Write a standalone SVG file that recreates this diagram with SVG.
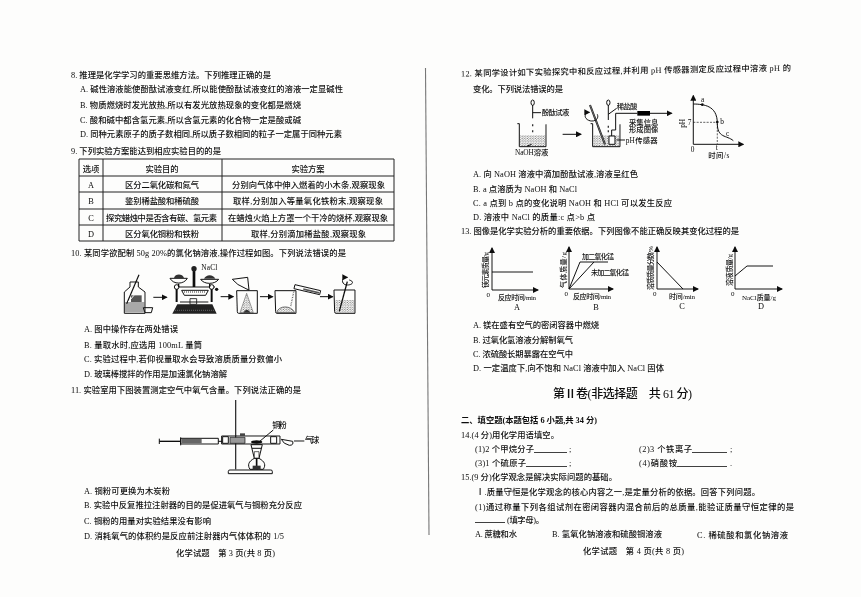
<svg xmlns="http://www.w3.org/2000/svg" width="861" height="597" viewBox="0 0 861 597">
<defs>
<filter id="scan" x="0" y="0" width="100%" height="100%"><feGaussianBlur stdDeviation="0.4"/></filter>
<marker id="ah" markerWidth="6" markerHeight="6" refX="5" refY="3" orient="auto"><path d="M0 0L6 3L0 6Z" fill="#111"/></marker>
<pattern id="dots" width="8" height="7" patternUnits="userSpaceOnUse"><circle cx="2" cy="2" r="1.6" fill="#444"/><circle cx="6" cy="5.5" r="1.6" fill="#444"/></pattern>
</defs>
<style>
text{font-family:"Liberation Serif","Noto Sans CJK SC",serif;font-size:8.3px;font-weight:500;fill:#0c0c0c}
.c{text-anchor:middle}
.ln{stroke:#111;stroke-width:1;fill:none}
.tb{stroke:#222;stroke-width:1;fill:none}
.u{stroke:#111;stroke-width:.8}
.z{stroke:#111;stroke-width:3;fill:none}
.zf{stroke:#111;stroke-width:3;fill:#fdfdfc}
.ax{stroke:#111;stroke-width:1;fill:none;marker-end:url(#ah)}
.t24{font-size:24px}
.t22{font-size:22px}
.lab{font-size:7px}
</style>
<rect width="861" height="597" fill="#fdfdfc"/>
<g filter="url(#scan)">
<path d="M425.5 68L429 535" stroke="#777" stroke-width="1.1" fill="none"/>

<g id="q8">
<text x="71" y="78" textLength="200">8. 推理是化学学习的重要思维方法。下列推理正确的是</text>
<text x="80" y="92" textLength="263">A. 碱性溶液能使酚酞试液变红,所以能使酚酞试液变红的溶液一定显碱性</text>
<text x="80" y="107.5" textLength="221">B. 物质燃烧时发光放热,所以有发光放热现象的变化都是燃烧</text>
<text x="80" y="122.5" textLength="221">C. 酸和碱中都含氢元素,所以含氢元素的化合物一定是酸或碱</text>
<text x="80" y="137" textLength="262">D. 同种元素原子的质子数相同,所以质子数相同的粒子一定属于同种元素</text>
</g>

<g id="q9">
<text x="71" y="153.5" textLength="150">9. 下列实验方案能达到相应实验目的的是</text>
<path class="tb" d="M79 159H394V241H79ZM79 176H394M79 192H394M79 209H394M79 225H394M103 159V241M222 159V241"/>
<text class="c" x="91" y="171.5">选项</text><text class="c" x="162" y="171.5" textLength="33">实验目的</text><text class="c" x="308" y="171.5" textLength="33">实验方案</text>
<text class="c" x="91" y="187.5">A</text><text x="125" y="187.5" textLength="74">区分二氧化碳和氮气</text><text x="232" y="187.5" textLength="153">分别向气体中伸入燃着的小木条,观察现象</text>
<text class="c" x="91" y="203.5">B</text><text x="125" y="203.5" textLength="74">鉴别稀盐酸和稀硫酸</text><text x="233" y="203.5" textLength="150">取样,分别加入等量氧化铁粉末,观察现象</text>
<text class="c" x="91" y="220.5">C</text><text x="106" y="220.5" textLength="111">探究蜡烛中是否含有碳、氢元素</text><text x="228" y="220.5" textLength="160">在蜡烛火焰上方罩一个干冷的烧杯,观察现象</text>
<text class="c" x="91" y="236.5">D</text><text x="125" y="236.5" textLength="74">区分氧化铜粉和铁粉</text><text x="251" y="236.5" textLength="115">取样,分别滴加稀盐酸,观察现象</text>
</g>

<g id="q10">
<text x="71" y="255.5" textLength="275">10. 某同学欲配制 50g 20%的氯化钠溶液,操作过程如图。下列说法错误的是</text>
<g id="fig10" transform="translate(60 240) scale(.3333)">
<path d="M195 186H253V217H195Z" fill="#a8a8a8"/>
<path class="z" d="M210 126H235V141L255 156V220H193V156L210 141Z"/>
<path d="M213 166H245V186H213Z" fill="#555"/>
<path d="M237 104L200 191" stroke="#111" stroke-width="3.5"/>
<path d="M205 186L222 166" stroke="#fdfdfc" stroke-width="3"/>
<path class="z" d="M250 203H278L274 218H255Z"/>
<path class="z" d="M280 172H320" marker-end="url(#ah)"/>
<path d="M337 221L352 193H457L470 221Z" fill="#222"/>
<path d="M345 211H462" stroke="#888" stroke-width="2" stroke-dasharray="3 3"/>
<path d="M390 176H410V193H390Z" fill="#fdfdfc" stroke="#111" stroke-width="2.5"/>
<path class="z" d="M343 141H465"/>
<path class="zf" d="M365 151H445L437 166H373Z"/>
<path d="M372 156H438" stroke="#333" stroke-width="3" stroke-dasharray="3 3"/>
<path d="M350 136V186M455 136V186" stroke="#111" stroke-width="6"/>
<path d="M360 186H445" stroke="#111" stroke-width="3"/>
<circle cx="350" cy="141" r="7" fill="#fdfdfc" stroke="#111" stroke-width="3"/><circle cx="455" cy="141" r="7" fill="#fdfdfc" stroke="#111" stroke-width="3"/>
<circle cx="470" cy="148" r="5" fill="#111"/>
<path d="M402 90V141" stroke="#111" stroke-width="8"/>
<circle cx="402" cy="86" r="8" fill="#222"/>
<path d="M330 115C340 134 372 134 382 115Z" fill="#fdfdfc" stroke="#111" stroke-width="3"/>
<path d="M422 118C432 134 465 134 476 118Z" fill="#fdfdfc" stroke="#111" stroke-width="3"/>
<path d="M342 114C345 100 368 100 372 114Z" fill="#333"/><path d="M432 116C438 102 460 102 466 116Z" fill="#333"/>
<path d="M356 131V141M449 131V141" stroke="#111" stroke-width="4"/>
<text class="t22" x="424" y="90" textLength="48">NaCl</text>
<path class="z" d="M482 170H520" marker-end="url(#ah)"/>
<path class="z" d="M530 152H592V220H536Q532 220 532 215Z"/>
<path class="zf" d="M517 118L563 112L567 150L558 146Q530 135 517 118Z"/>
<path d="M560 160L580 218H540Z" fill="url(#dots)" stroke="#444" stroke-width="1.5"/>
<path d="M550 218Q560 200 572 218Z" fill="#333"/>
<path class="z" d="M600 170H638" marker-end="url(#ah)"/>
<path class="z" d="M645 152H708V220H650Q647 220 647 215Z"/>
<path d="M650 218C655 195 695 195 704 218Z" fill="url(#dots)" stroke="#333" stroke-width="2"/>
<path d="M702 152L692 200" stroke="#444" stroke-width="4" stroke-dasharray="2 3"/>
<path class="z" d="M705 134L782 152L779 164L702 146Z"/>
<path d="M730 145L778 156V161L730 150Z" fill="#555"/>
<path class="z" d="M780 170H818" marker-end="url(#ah)"/>
<path d="M826 180H883V218H826Z" fill="url(#dots)"/>
<path class="z" d="M822 150H885V220H828Q824 220 824 215Z"/>
<path d="M862 125L838 214" stroke="#111" stroke-width="4"/>
<path class="z" d="M868 120C885 125 878 136 858 135C842 130 845 112 862 112" marker-end="url(#ah)"/>
</g>
<text x="84" y="331.5" textLength="94">A. 图中操作存在两处错误</text>
<text x="84" y="347.5" textLength="118">B. 量取水时,应选用 100mL 量筒</text>
<text x="84" y="362" textLength="198">C. 实验过程中,若仰视量取水会导致溶质质量分数偏小</text>
<text x="84" y="377" textLength="143">D. 玻璃棒搅拌的作用是加速氯化钠溶解</text>
</g>

<g id="q11">
<text x="71" y="392.5" textLength="230">11. 实验室用下图装置测定空气中氧气含量。下列说法正确的是</text>
<g id="fig11" transform="translate(60 380) scale(.3333)">
<path d="M527 60V268" stroke="#333" stroke-width="4"/>
<path class="z" d="M505 281V274Q505 270 510 270H632Q637 270 637 274V281Z"/>
<path d="M298 184H362" stroke="#111" stroke-width="4"/>
<path d="M298 176V192M362 172V196" stroke="#111" stroke-width="3"/>
<path class="z" d="M362 175H475V192H362Z"/>
<path d="M364 177H425V190H364Z" fill="#666"/>
<path d="M475 184H487" stroke="#111" stroke-width="3"/>
<path class="z" d="M485 168H660V192H485Z"/>
<path d="M488 170H505V190H488ZM632 170H650V190H632Z" fill="#fdfdfc" stroke="#111" stroke-width="3"/>
<path d="M510 172H555V190H510Z" fill="#999" stroke="#111" stroke-width="2"/>
<path d="M540 160H555V168H540Z" fill="#444"/>
<ellipse cx="590" cy="186" rx="17" ry="5" fill="#111"/>
<path d="M664 178L698 184Q702 196 688 196Q670 192 664 178Z" fill="#fdfdfc" stroke="#111" stroke-width="3"/>
<path class="z" d="M702 183H733"/>
<text class="t24" x="735" y="190" textLength="43">气球</text>
<text class="t24" x="637" y="145" textLength="43">铜粉</text>
<path class="z" d="M640 150L598 185"/>
<path class="z" d="M573 194L583 235M607 194L597 235M573 194H607M576 205H604"/>
<path d="M583 215H597V235H583Z" fill="#fdfdfc" stroke="#111" stroke-width="2"/>
<path class="z" d="M583 235C565 245 562 255 570 268H610C618 255 615 245 597 235Z"/>
<path d="M590 235V268" stroke="#111" stroke-width="5"/><path d="M578 257H602V268H578Z" fill="#333"/>
</g>
<text x="84" y="494" textLength="86">A. 铜粉可更换为木炭粉</text>
<text x="84" y="508" textLength="218">B. 实验中反复推拉注射器的目的是促进氧气与铜粉充分反应</text>
<text x="84" y="523.5" textLength="127">C. 铜粉的用量对实验结果没有影响</text>
<text x="84" y="538.5" textLength="200">D. 消耗氧气的体积约是反应前注射器内气体体积的 1/5</text>
<text x="176" y="555.5" textLength="99">化学试题　第 3 页(共 8 页)</text>
</g>

<g id="q12">
<text x="461" y="76.5" textLength="330" transform="rotate(-1 461 76.5)">12. 某同学设计如下实验探究中和反应过程,并利用 pH 传感器测定反应过程中溶液 pH 的</text>
<text x="473" y="91.5" textLength="90">变化。下列说法错误的是</text>
<g id="fig12" transform="translate(440 55) scale(.3333)">
<path class="z" d="M278 150V190M278 173H303"/><ellipse cx="278" cy="143" rx="5" ry="8" class="z"/>
<text class="t22" x="305" y="181" textLength="83">酚酞试液</text>
<path d="M278 208v6M278 226v6" stroke="#333" stroke-width="4"/>
<path d="M240 240H316V273H240Z" fill="url(#dots)"/>
<path class="z" d="M232 206H238V275H318V208"/>
<path class="z" d="M262 273L275 268"/>
<text class="t22" x="225" y="300" textLength="100">NaOH溶液</text>
<path class="z" d="M368 238H423" marker-end="url(#ah)"/>
<path d="M460 240H538V273H460Z" fill="url(#dots)"/>
<path class="z" d="M452 206H458V275H540V208"/>
<path d="M450 150L495 268" stroke="#111" stroke-width="6"/>
<path d="M450 150L495 268" stroke="#999" stroke-width="2"/>
<path class="z" d="M472 178C480 198 450 205 438 190C432 182 438 172 448 172" marker-end="url(#ah)"/>
<path class="z" d="M505 150V195M505 178L530 160"/><ellipse cx="505" cy="143" rx="5" ry="8" class="z"/>
<text class="t22" x="530" y="163" textLength="62">稀盐酸</text>
<path d="M505 212v6M505 226v6" stroke="#333" stroke-width="4"/>
<path class="z" d="M515 243V225H527V175H592"/>
<path d="M592 168H630V182H592Z" fill="#000"/>
<path class="z" d="M630 175H695" marker-end="url(#ah)"/>
<text class="t22" x="567" y="209" textLength="88">采集信息</text><text class="t22" x="567" y="232" textLength="88">形成图像</text>
<path class="zf" d="M507 243H525V268H507Z"/>
<path class="z" d="M530 255H555"/>
<text class="t22" x="557" y="264" textLength="96">pH传感器</text>
<path class="z" d="M760 268V122" marker-end="url(#ah)"/><path class="z" d="M760 268H910" marker-end="url(#ah)"/>
<path class="z" d="M760 147C790 148 832 150 832 205C832 250 860 240 880 257"/>
<circle cx="787" cy="149" r="4" fill="#111"/><circle cx="832" cy="201" r="4" fill="#111"/>
<path d="M760 202H832M832 205V268" stroke="#111" stroke-width="2" stroke-dasharray="6 4" fill="none"/>
<text class="t22" x="783" y="142">a</text><text class="t22" x="841" y="208">b</text><text class="t22" x="858" y="243">c</text>
<text class="t22" x="743" y="211">7</text><text class="t22" x="752" y="292">0</text><text class="t22" x="827" y="286">t</text>
<text class="t22" transform="translate(735 205) rotate(-90)" text-anchor="middle">pH</text>
<text class="t22" x="805" y="310" textLength="63">时间/s</text>
</g>
<text x="473" y="176.5" textLength="165">A. 向 NaOH 溶液中滴加酚酞试液,溶液呈红色</text>
<text x="473" y="191.5" textLength="104">B. a 点溶质为 NaOH 和 NaCl</text>
<text x="473" y="205.5" textLength="199">C. a 点到 b 点的变化说明 NaOH 和 HCl 可以发生反应</text>
<text x="473" y="220" textLength="122">D. 溶液中 NaCl 的质量:c 点&gt;b 点</text>
</g>

<g id="q13">
<text x="461" y="233.5" textLength="278">13. 图像是化学实验分析的重要依据。下列图像不能正确反映其变化过程的是</text>
<g id="chartA">
<path class="ax" d="M492 290V248"/><path class="ax" d="M492 290H538"/><path class="ln" d="M492 272H533"/>
<text class="lab c" transform="translate(488 270) rotate(-90)" textLength="36">镁元素质量/g</text>
<text class="lab" x="498" y="300" textLength="38">反应时间/min</text>
<text class="lab" x="486.5" y="297">0</text><text x="517" y="310" class="c">A</text>
</g>
<g id="chartB">
<path class="ax" d="M569 289V247"/><path class="ax" d="M569 289H613"/><path class="ln" d="M569 289L580 262H608M569 289L594 262"/>
<text class="lab" x="582" y="259" textLength="32">加二氧化锰</text><text class="lab" x="591" y="275" textLength="38">未加二氧化锰</text>
<text class="lab c" transform="translate(566 270) rotate(-90)" textLength="36">气体质量/g</text>
<text class="lab" x="573" y="299" textLength="38">反应时间/min</text>
<text class="lab" x="564.5" y="296">0</text><text x="596" y="310" class="c">B</text>
</g>
<g id="chartC">
<path class="ax" d="M657 289V247"/><path class="ax" d="M657 289H698"/><path class="ln" d="M657 262L683 289"/>
<text class="lab c" transform="translate(653 268) rotate(-90)" textLength="44">溶质质量分数/%</text>
<text class="lab" x="669" y="299" textLength="26">时间/min</text>
<text class="lab" x="653" y="296">0</text><text x="682" y="309" class="c">C</text>
</g>
<g id="chartD">
<path class="ax" d="M735 289V247"/><path class="ax" d="M735 289H782"/><path class="ln" d="M735 276L747 266H773"/>
<text class="lab c" transform="translate(732 270) rotate(-90)" textLength="32">溶液质量/g</text>
<text class="lab" x="742" y="300" textLength="34">NaCl质量/g</text>
<text class="lab" x="731" y="296">0</text><text x="761" y="309" class="c">D</text>
</g>
<text x="473" y="327.5" textLength="126">A. 镁在盛有空气的密闭容器中燃烧</text>
<text x="473" y="342.5" textLength="100">B. 过氧化氢溶液分解制氧气</text>
<text x="473" y="357" textLength="100">C. 浓硫酸长期暴露在空气中</text>
<text x="473" y="371" textLength="191">D. 一定温度下,向不饱和 NaCl 溶液中加入 NaCl 固体</text>
</g>

<g id="part2">
<text x="553" y="398" style="font-size:12px" textLength="139">第Ⅱ卷(非选择题　共 61 分)</text>
<text x="461" y="422.5" textLength="136" style="font-weight:700">二、填空题(本题包括 6 小题,共 34 分)</text>
<text x="461" y="437.5" textLength="98">14.(4 分)用化学用语填空。</text>
<text x="475" y="452" textLength="59">(1)2 个甲烷分子</text><path class="u" d="M534 452.5H567"/><text x="569" y="452">;</text>
<text x="639" y="452" textLength="53">(2)3 个铁离子</text><path class="u" d="M692 452.5H727"/><text x="730" y="452">;</text>
<text x="475" y="466" textLength="51">(3)1 个硫原子</text><path class="u" d="M526 466.5H567"/><text x="569" y="466">;</text>
<text x="639" y="466" textLength="38">(4)硝酸铵</text><path class="u" d="M677 466.5H727"/><text x="730" y="466">.</text>
<text x="461" y="479.5" textLength="156">15.(9 分)化学观念是解决实际问题的基础。</text>
<text x="476" y="494.5" textLength="284">Ⅰ.质量守恒是化学观念的核心内容之一,是定量分析的依据。回答下列问题。</text>
<text x="475" y="509.5" textLength="319">(1)通过称量下列各组试剂在密闭容器内混合前后的总质量,能验证质量守恒定律的是</text>
<path class="u" d="M475 522.5H505"/><text x="507" y="522.5" textLength="37">(填字母)。</text>
<text x="475" y="536.5" textLength="42">A. 蔗糖和水</text>
<text x="552" y="536.5" textLength="110">B. 氢氧化钠溶液和硫酸铜溶液</text>
<text x="697" y="538" textLength="91">C. 稀硫酸和氯化钠溶液</text>
<text x="583" y="553.5" textLength="101">化学试题　第 4 页(共 8 页)</text>
</g>
</g>
</svg>
